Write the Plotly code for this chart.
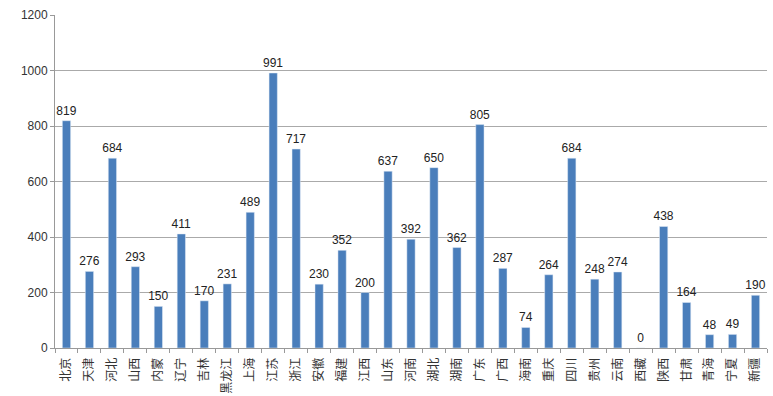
import plotly.graph_objects as go

provinces = ["北京","天津","河北","山西","内蒙","辽宁","吉林","黑龙江","上海","江苏","浙江","安徽","福建","江西","山东","河南","湖北","湖南","广东","广西","海南","重庆","四川","贵州","云南","西藏","陕西","甘肃","青海","宁夏","新疆"]
values = [819,276,684,293,150,411,170,231,489,991,717,230,352,200,637,392,650,362,805,287,74,264,684,248,274,0,438,164,48,49,190]
y_ticks = [0,200,400,600,800,1000,1200]

fig = go.Figure(go.Bar(
    x=provinces, y=values,
    marker=dict(color="#4A7EBB"),
    text=[str(v) for v in values],
    textposition="outside",
    constraintext="none",
    textfont=dict(size=12, color="#222222", family="Liberation Sans"),
    cliponaxis=False,
))
fig.update_layout(
    width=773, height=396,
    margin=dict(l=55, r=6, t=15, b=48, autoexpand=False),
    paper_bgcolor="white", plot_bgcolor="white",
    bargap=0.64,
    showlegend=False,
    font=dict(family="Noto Sans CJK SC, Liberation Sans", size=12, color="#333333"),
)
fig.update_xaxes(
    type="category", tickangle=-90, automargin=False,
    showline=True, linecolor="#999999", linewidth=1,
    ticks="outside", tickson="boundaries", ticklen=4, tickcolor="#999999",
    ticklabelstandoff=4,
    tickfont=dict(size=12, family="Noto Sans CJK SC", color="#333333"),
)
fig.update_yaxes(
    range=[0,1200], tickvals=y_ticks, ticktext=[str(t) for t in y_ticks],
    automargin=False,
    showgrid=True, gridcolor="#AAAAAA", gridwidth=1,
    showline=True, linecolor="#999999", linewidth=1,
    ticks="outside", ticklen=4, tickcolor="#999999",
    tickfont=dict(size=12, family="Liberation Sans", color="#333333"),
    zeroline=False,
)
fig.write_html("out.html", config={"displayModeBar": False},
               post_script="document.body.style.margin='0';document.body.style.overflow='hidden';")
